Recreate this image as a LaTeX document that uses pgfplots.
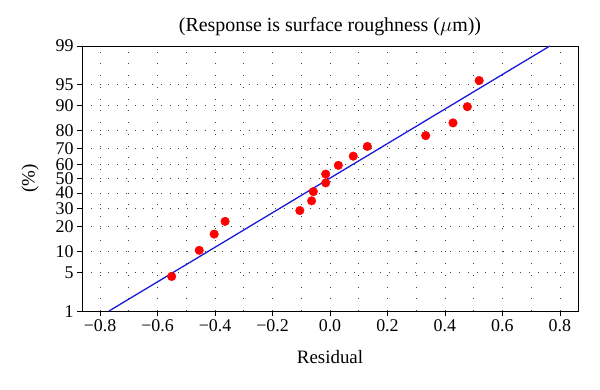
\documentclass[border=0pt]{standalone}
\usepackage{fontspec}
\setmainfont{Liberation Serif}
\usepackage{pgfplots}
\pgfplotsset{compat=1.18}
\definecolor{lineblue}{rgb}{0.1,0.1,0.85}
\begin{document}
\begin{tikzpicture}
\useasboundingbox (-82bp,-79bp) rectangle (518bp,311bp);
\begin{axis}[
  scale only axis, width=496bp, height=265bp,
  anchor=south west, at={(0,0)},
  xmin=-0.863, xmax=0.863, ymin=-2.3263, ymax=2.3263,
  xtick={-0.8,-0.6,-0.4,-0.2,0,0.2,0.4,0.6,0.8},
  xticklabels={−0.8,−0.6,−0.4,−0.2,0.0,0.2,0.4,0.6,0.8},
  minor xtick={-0.7,-0.5,-0.3,-0.1,0.1,0.3,0.5,0.7},
  ytick={-2.3263,-1.6449,-1.2816,-0.8416,-0.5244,-0.2533,0,0.2533,0.5244,0.8416,1.2816,1.6449,2.3263},
  yticklabels={1,5,10,20,30,40,50,60,70,80,90,95,99},
  tick align=outside, xtick pos=left, ytick pos=left,
  major tick length=5bp, minor tick length=0pt,
  tick style={black, line width=0.8pt},
  axis line style={black, line width=0.9pt},
  xmajorgrids, xminorgrids, ymajorgrids,
  x grid style={black!75, line width=0.8pt, dash pattern=on 0.8pt off 11pt},
  y grid style={black!75, line width=0.8pt, dash pattern=on 0.8pt off 8pt},
  tick label style={font=\fontsize{18}{20}\selectfont},
  yticklabel style={inner ysep=0pt, text height=12bp, text depth=0pt},
  label style={font=\fontsize{19}{21}\selectfont},
  xlabel style={yshift=-12bp},
  ylabel style={yshift=10bp},
  title style={font=\fontsize{20}{22}\selectfont, yshift=1bp},
  title={(Response is surface roughness ($\mu$m))},
  xlabel={Residual}, ylabel={(\%)},
]
\addplot[lineblue, line width=1.3pt] coordinates {(-0.769,-2.3263) (0.765,2.3263)};
\addplot[only marks, mark=*, mark size=4.3bp, red, mark options={draw=red, fill=red}] coordinates {
(-0.551,-1.720) (-0.455,-1.261) (-0.403,-0.976) (-0.365,-0.753)
(-0.105,-0.563) (-0.064,-0.392) (-0.058,-0.231) (-0.015,-0.077)
(-0.015,0.077) (0.029,0.231) (0.081,0.392) (0.130,0.563)
(0.333,0.753) (0.428,0.976) (0.478,1.261) (0.519,1.720)
};
\end{axis}
\end{tikzpicture}
\end{document}
